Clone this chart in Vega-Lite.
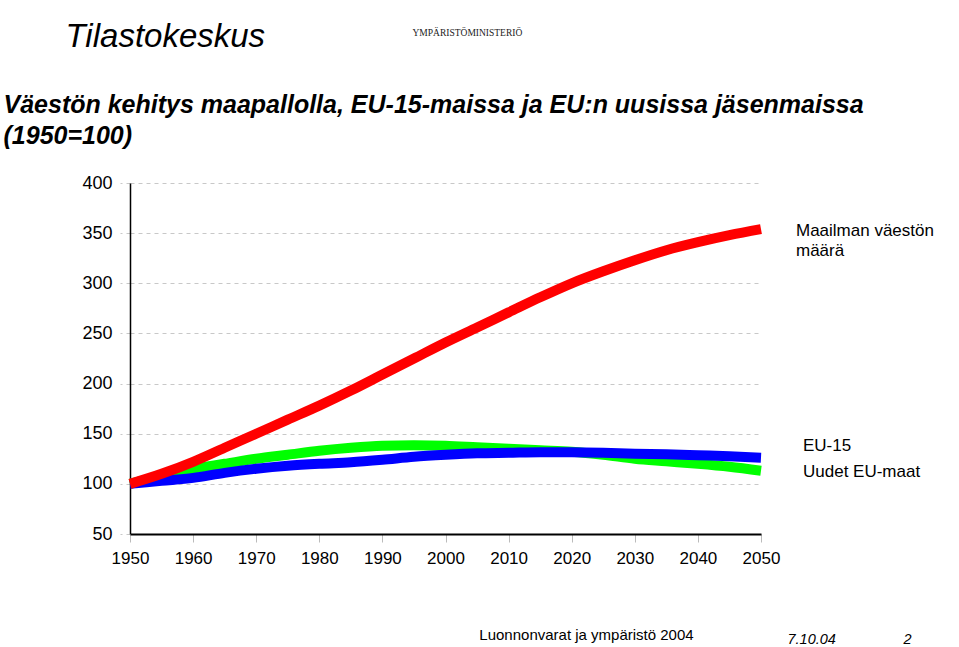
{
  "$schema": "https://vega.github.io/schema/vega-lite/v6.json",
  "width": 631,
  "height": 351,
  "autosize": {"type": "none"},
  "padding": {"left": 130, "top": 183, "right": 198, "bottom": 113},
  "background": "white",
  "config": {"view": {"stroke": null}},
  "datasets": {
    "world": [
      {"year": 1950, "value": 100}, {"year": 1955, "value": 110}, {"year": 1960, "value": 122},
      {"year": 1965, "value": 136}, {"year": 1970, "value": 150}, {"year": 1975, "value": 164},
      {"year": 1980, "value": 178}, {"year": 1985, "value": 193}, {"year": 1990, "value": 209},
      {"year": 1995, "value": 225}, {"year": 2000, "value": 241}, {"year": 2005, "value": 256},
      {"year": 2010, "value": 271}, {"year": 2015, "value": 286}, {"year": 2020, "value": 300},
      {"year": 2025, "value": 312}, {"year": 2030, "value": 323}, {"year": 2035, "value": 333},
      {"year": 2040, "value": 341}, {"year": 2045, "value": 348}, {"year": 2050, "value": 354}
    ],
    "newmembers": [
      {"year": 1950, "value": 100}, {"year": 1955, "value": 108}, {"year": 1960, "value": 115},
      {"year": 1965, "value": 120}, {"year": 1970, "value": 125}, {"year": 1975, "value": 129},
      {"year": 1980, "value": 133}, {"year": 1985, "value": 136}, {"year": 1990, "value": 138},
      {"year": 1995, "value": 138.5}, {"year": 2000, "value": 138}, {"year": 2005, "value": 136.5},
      {"year": 2010, "value": 135}, {"year": 2015, "value": 133.5}, {"year": 2020, "value": 132},
      {"year": 2025, "value": 129}, {"year": 2030, "value": 125}, {"year": 2035, "value": 122.5},
      {"year": 2040, "value": 120}, {"year": 2045, "value": 117}, {"year": 2050, "value": 113}
    ],
    "eu15": [
      {"year": 1950, "value": 100}, {"year": 1955, "value": 103}, {"year": 1960, "value": 106},
      {"year": 1965, "value": 111}, {"year": 1970, "value": 115}, {"year": 1975, "value": 118},
      {"year": 1980, "value": 120}, {"year": 1985, "value": 121.5}, {"year": 1990, "value": 124},
      {"year": 1995, "value": 127}, {"year": 2000, "value": 129}, {"year": 2005, "value": 130.5},
      {"year": 2010, "value": 131}, {"year": 2015, "value": 131.5}, {"year": 2020, "value": 131.5},
      {"year": 2025, "value": 131}, {"year": 2030, "value": 130}, {"year": 2035, "value": 129.5},
      {"year": 2040, "value": 128.5}, {"year": 2045, "value": 127.5}, {"year": 2050, "value": 126}
    ],
    "labels_world": [
      {"label": "Maailman väestön\nmäärä", "year": 2050, "value": 352}
    ],
    "labels_eu": [
      {"label": "EU-15", "year": 2050, "value": 138},
      {"label": "Uudet EU-maat", "year": 2050, "value": 112}
    ]
  },
  "layer": [
    {
      "encoding": {
        "x": {
          "field": "year", "type": "quantitative",
          "scale": {"domain": [1950, 2050], "nice": false, "zero": false},
          "axis": {
            "orient": "bottom",
            "values": [1950, 1960, 1970, 1980, 1990, 2000, 2010, 2020, 2030, 2040, 2050],
            "format": "d", "grid": false,
            "domainColor": "#000000", "domainWidth": 2,
            "tickColor": "#bbbbbb", "tickSize": 8, "tickWidth": 1,
            "labelFont": "Liberation Sans", "labelFontSize": 17, "labelColor": "#000000",
            "labelPadding": 8, "labelFlush": false, "labelOverlap": false,
            "title": "Luonnonvarat ja ympäristö 2004",
            "titleFont": "Liberation Sans",
            "titleFontSize": 15, "titleFontWeight": "normal", "titleColor": "#000000",
            "titleAnchor": null, "titleX": 456, "titleY": 105,
            "titleAlign": "center", "titleBaseline": "alphabetic", "titleLimit": 1000
          }
        },
        "y": {
          "field": "value", "type": "quantitative",
          "scale": {"domain": [50, 400], "nice": false, "zero": false},
          "axis": {
            "orient": "left",
            "values": [50, 100, 150, 200, 250, 300, 350, 400],
            "grid": true, "gridColor": "#c8c8c8", "gridDash": [4, 4], "gridWidth": 1,
            "domainColor": "#000000", "domainWidth": 1.5,
            "tickColor": "#c8c8c8", "tickDash": [4, 4], "tickSize": 10,
            "labelFont": "Liberation Sans",
            "labelFontSize": 18, "labelColor": "#000000", "labelPadding": 8,
            "labelFlush": false, "labelOverlap": false,
            "title": ["Väestön kehitys maapallolla, EU-15-maissa ja EU:n uusissa jäsenmaissa", "(1950=100)"],
            "titleFont": "Liberation Sans",
            "titleFontSize": 25, "titleFontWeight": "bold", "titleFontStyle": "italic",
            "titleColor": "#000000", "titleAngle": 0, "titleAnchor": null,
            "titleX": -127, "titleY": -71, "titleAlign": "left", "titleBaseline": "alphabetic",
            "titleLineHeight": 31, "titleLimit": 1000
          }
        }
      },
      "layer": [
        {"data": {"name": "newmembers"}, "mark": {"type": "line", "color": "#00ff00", "strokeWidth": 10, "interpolate": "monotone", "strokeCap": "butt"}},
        {"data": {"name": "eu15"}, "mark": {"type": "line", "color": "#0000ff", "strokeWidth": 10, "interpolate": "monotone", "strokeCap": "butt"}}
      ]
    },
    {
      "data": {"name": "world"},
      "mark": {"type": "line", "color": "#ff0000", "strokeWidth": 10, "interpolate": "monotone", "strokeCap": "butt"},
      "encoding": {
        "x": {
          "field": "year", "type": "quantitative",
          "scale": {"domain": [1950, 2050], "nice": false, "zero": false},
          "axis": {
            "orient": "bottom", "domain": false, "ticks": false, "labels": false, "grid": false,
            "title": "7.10.04",
            "titleFont": "Liberation Sans",
            "titleFontSize": 14.5, "titleFontWeight": "normal", "titleFontStyle": "italic",
            "titleColor": "#000000", "titleAnchor": null, "titleX": 657, "titleY": 109,
            "titleAlign": "left", "titleBaseline": "alphabetic"
          }
        },
        "y": {
          "field": "value", "type": "quantitative",
          "scale": {"domain": [50, 400], "nice": false, "zero": false},
          "axis": {
            "orient": "left", "domain": false, "ticks": false, "labels": false, "grid": false,
            "title": "2",
            "titleFont": "Liberation Sans",
            "titleFontSize": 14.5, "titleFontWeight": "normal", "titleFontStyle": "italic",
            "titleColor": "#000000", "titleAngle": 0, "titleAnchor": null,
            "titleX": 773, "titleY": 460, "titleAlign": "left", "titleBaseline": "alphabetic"
          }
        }
      }
    },
    {
      "encoding": {
        "x": {
          "field": "year", "type": "quantitative",
          "scale": {"domain": [1950, 2050], "nice": false, "zero": false},
          "axis": {
            "orient": "top", "domain": false, "ticks": false, "labels": false, "grid": false,
            "title": "Tilastokeskus",
            "titleFont": "Liberation Sans",
            "titleFontSize": 33, "titleFontWeight": "normal", "titleFontStyle": "italic",
            "titleColor": "#000000", "titleAnchor": null, "titleX": -65, "titleY": -137,
            "titleAlign": "left", "titleBaseline": "alphabetic"
          }
        },
        "y": {
          "field": "value", "type": "quantitative",
          "scale": {"domain": [50, 400], "nice": false, "zero": false},
          "axis": {
            "orient": "right", "domain": false, "ticks": false, "labels": false, "grid": false,
            "title": "YMPÄRISTÖMINISTERIÖ",
            "titleFont": "Liberation Serif", "titleFontSize": 9.5, "titleFontWeight": "normal",
            "titleColor": "#222222", "titleAngle": 0, "titleAnchor": null,
            "titleX": -349, "titleY": -148, "titleAlign": "left", "titleBaseline": "alphabetic"
          }
        },
        "text": {"field": "label", "type": "nominal"}
      },
      "layer": [
        {"data": {"name": "labels_world"}, "mark": {"type": "text", "font": "Liberation Sans", "fontSize": 17, "align": "left", "baseline": "middle", "dx": 35, "lineBreak": "\n", "lineHeight": 20, "color": "#000000"}},
        {"data": {"name": "labels_eu"}, "mark": {"type": "text", "font": "Liberation Sans", "fontSize": 17, "align": "left", "baseline": "middle", "dx": 42, "color": "#000000"}}
      ]
    }
  ],
  "resolve": {
    "scale": {"x": "independent", "y": "independent"},
    "axis": {"x": "independent", "y": "independent"}
  }
}
